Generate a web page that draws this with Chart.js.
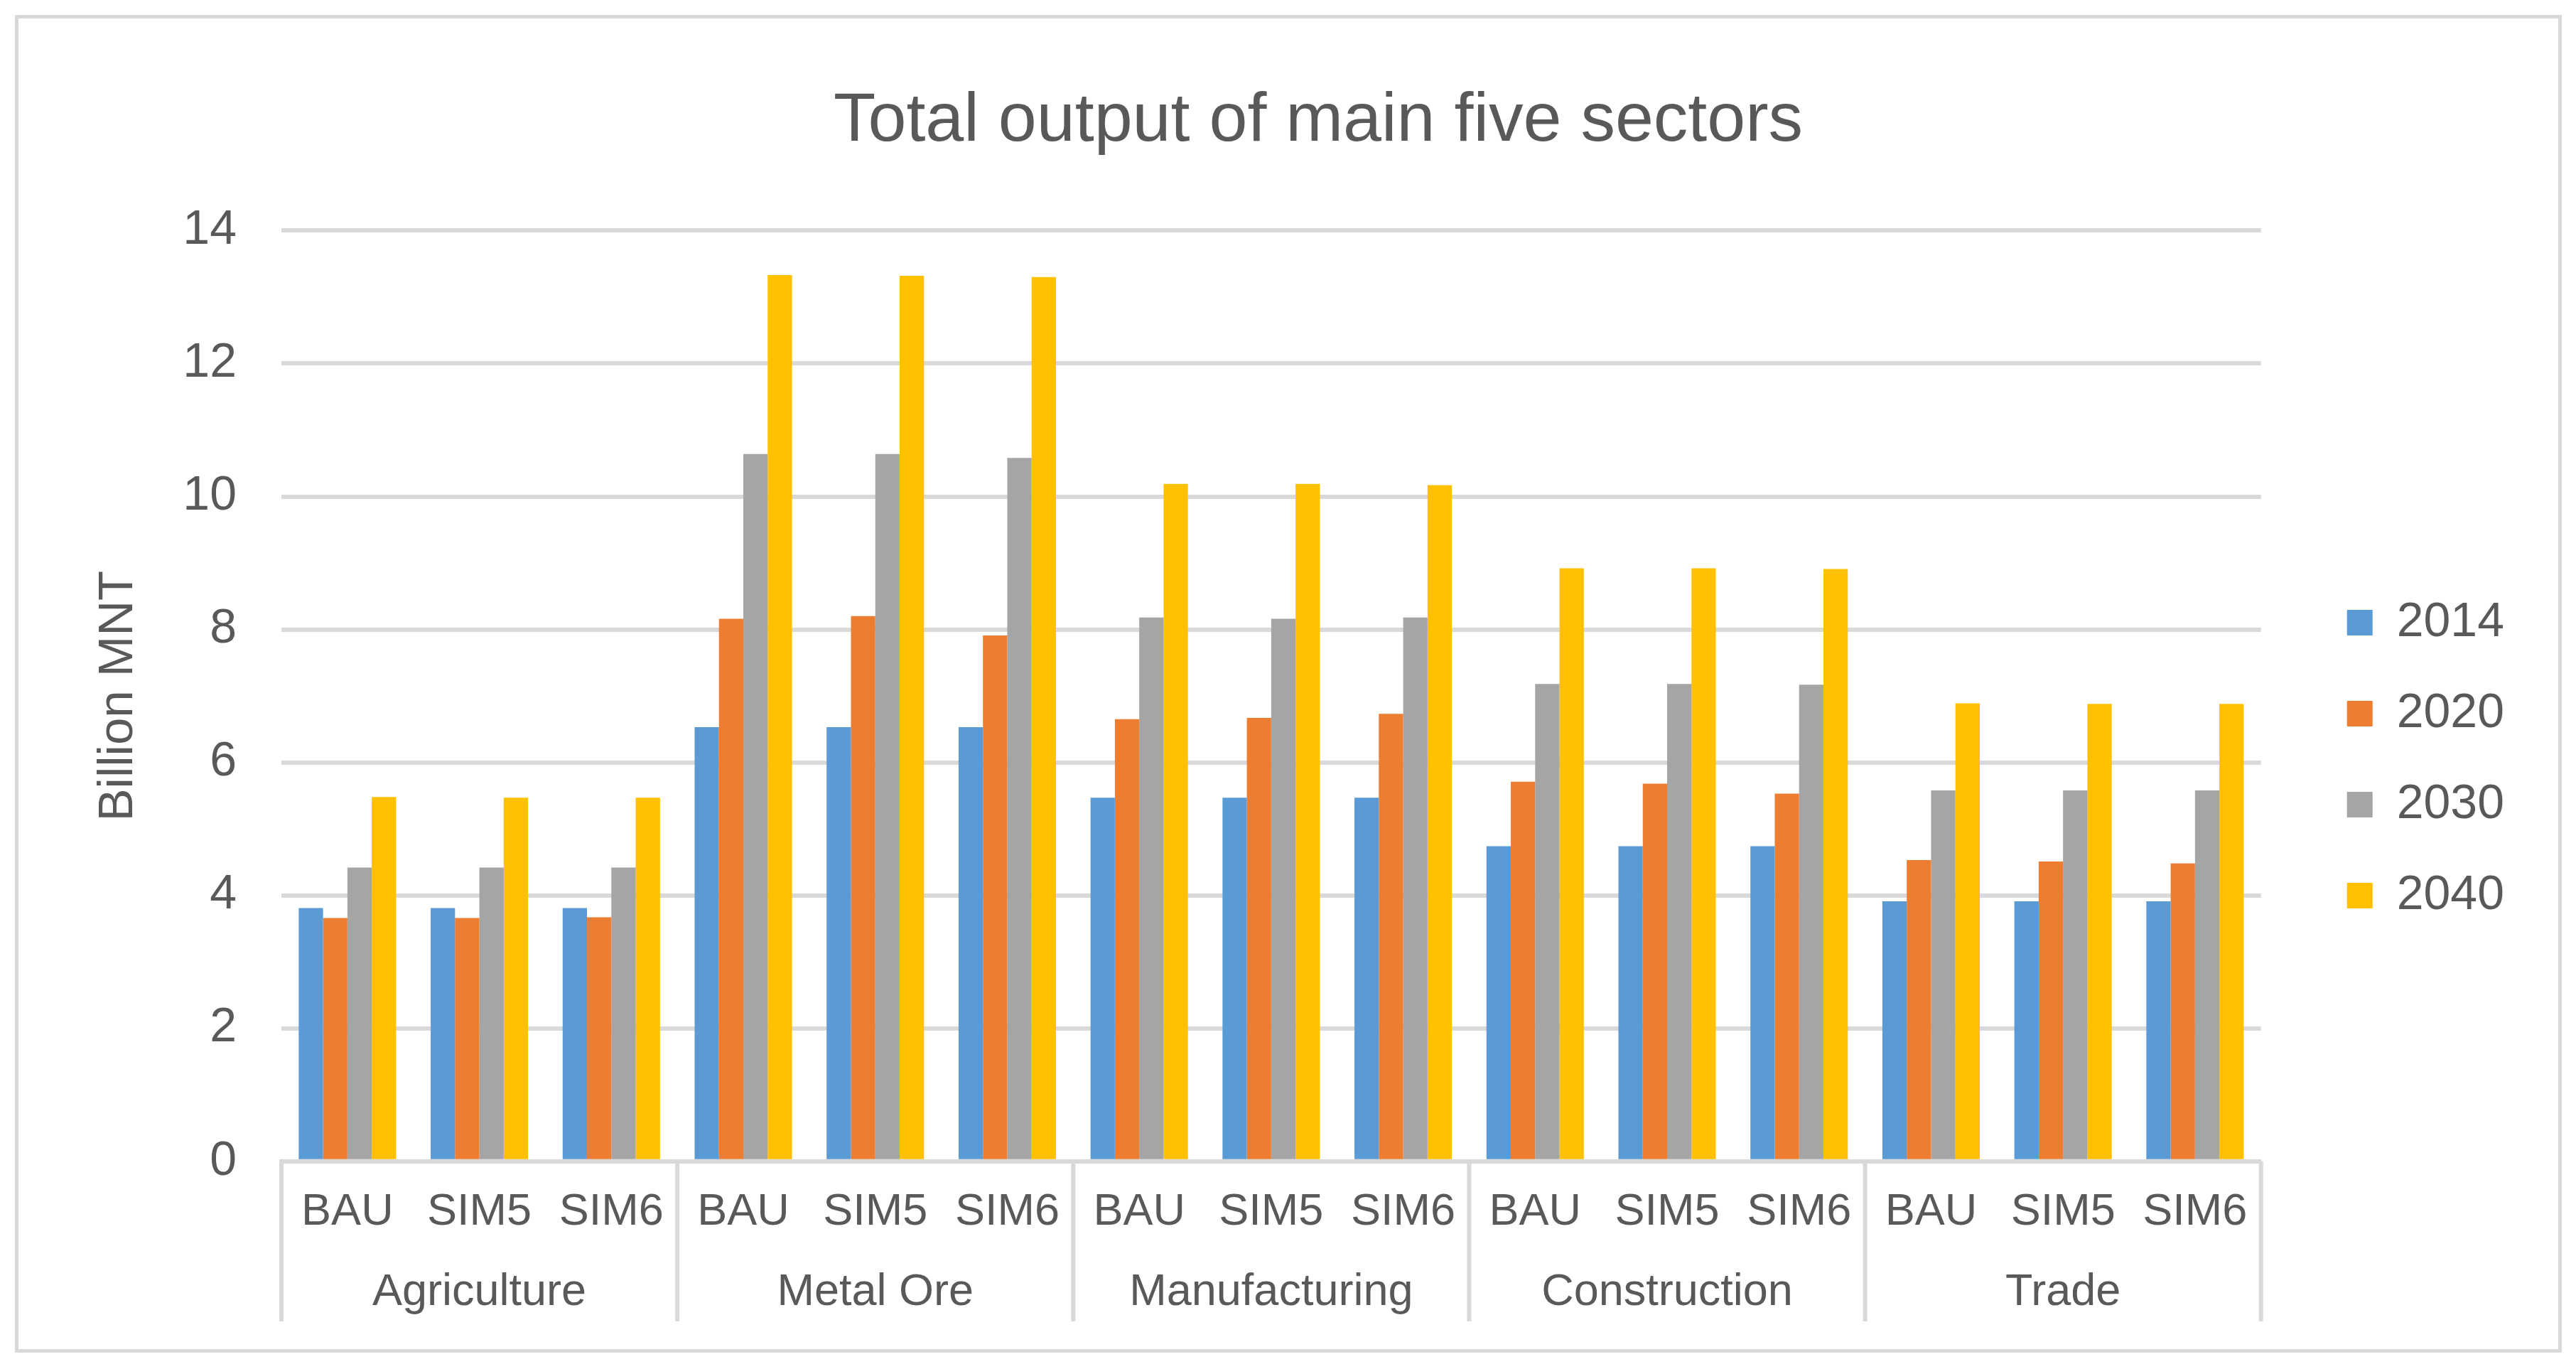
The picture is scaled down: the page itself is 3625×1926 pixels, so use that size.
<!DOCTYPE html>
<html>
<head>
<meta charset="utf-8">
<script src="https://cdn.jsdelivr.net/npm/chart.js@4.4.1/dist/chart.umd.min.js"></script>
<style>
  html, body { margin: 0; padding: 0; background: #ffffff; }
  #frame { position: absolute; left: 21px; top: 21px; width: 3584px; height: 1882px;
           border: 5px solid #d9d9d9; box-sizing: border-box; }
  #c { position: absolute; left: 0; top: 0; }
</style>
</head>
<body>
<div id="frame"></div>
<canvas id="c" width="3625" height="1926"></canvas>
<script>
// ---- data ----
const sectors   = ['Agriculture', 'Metal Ore', 'Manufacturing', 'Construction', 'Trade'];
const scenarios = ['BAU', 'SIM5', 'SIM6'];
const years     = ['2014', '2020', '2030', '2040'];

const v2014 = [3.81, 3.81, 3.81,  6.53, 6.53, 6.53,  5.47, 5.47, 5.47,  4.74, 4.74, 4.74,  3.91, 3.91, 3.91];
const v2020 = [3.66, 3.66, 3.67,  8.16, 8.20, 7.91,  6.65, 6.67, 6.73,  5.71, 5.68, 5.53,  4.53, 4.51, 4.48];
const v2030 = [4.42, 4.42, 4.42, 10.64,10.64,10.58,  8.18, 8.16, 8.18,  7.18, 7.18, 7.17,  5.58, 5.58, 5.58];
const v2040 = [5.48, 5.47, 5.47, 13.33,13.32,13.30, 10.19,10.19,10.17,  8.92, 8.92, 8.91,  6.89, 6.88, 6.88];

const yMin = 0, yMax = 14, yStep = 2;

// ---- styles ----
const FONT = "'Liberation Sans', Arial, sans-serif";
const TEXT = '#595959';
const GRID = '#d9d9d9';
const colors = ['#5B9BD5', '#ED7D31', '#A5A5A5', '#FFC000'];

const xLabels = sectors.flatMap(() => scenarios);
const seriesValues = [v2014, v2020, v2030, v2040];

// group separators of the two-level category axis, placed from the scales
const groupSeparators = {
  id: 'groupSeparators',
  afterDraw(chart) {
    const xs = chart.scales.x, x2 = chart.scales.x2;
    const n = xs.ticks.length;
    const per = n / sectors.length;
    const half = (xs.getPixelForTick(1) - xs.getPixelForTick(0)) / 2;
    const ctx = chart.ctx;
    ctx.save();
    ctx.strokeStyle = GRID;
    ctx.lineWidth = 6;
    for (let k = 0; k <= sectors.length; k++) {
      const i = k * per;
      const px = i < n ? xs.getPixelForTick(i) - half : xs.getPixelForTick(n - 1) + half;
      ctx.beginPath();
      ctx.moveTo(px, xs.top);
      ctx.lineTo(px, x2.bottom);
      ctx.stroke();
    }
    ctx.restore();
  }
};

const legendShift = {
  id: 'legendShift',
  afterLayout(chart) {
    const lg = chart.legend;
    if (lg) { lg.top += 89; lg.bottom += 89; }
  }
};

new Chart(document.getElementById('c'), {
  type: 'bar',
  data: {
    labels: xLabels,
    datasets: years.map((y, i) => ({
      label: y,
      data: seriesValues[i],
      backgroundColor: colors[i],
      borderWidth: 0,
      xAxisID: 'x',
      yAxisID: 'y',
      categoryPercentage: 0.738,
      barPercentage: 1.0
    }))
  },
  options: {
    responsive: false,
    animation: false,
    devicePixelRatio: 1,
    layout: { padding: { left: 176, right: 91, top: 0, bottom: 67 } },
    plugins: {
      title: {
        display: true,
        text: 'Total output of main five sectors',
        color: TEXT,
        font: { family: FONT, size: 97, weight: 'normal', lineHeight: 1.2 },
        padding: { top: 113, bottom: 95 }
      },
      legend: {
        position: 'right',
        fullSize: false,
        align: 'center',
        labels: {
          boxWidth: 36, boxHeight: 36, padding: 60,
          color: TEXT,
          font: { family: FONT, size: 68 }
        }
      },
      tooltip: { enabled: false }
    },
    scales: {
      x: {
        type: 'category',
        position: 'bottom',
        weight: 0,
        offset: true,
        grid: { display: false, drawTicks: false },
        border: { display: true, color: GRID, width: 6 },
        ticks: { color: TEXT, font: { family: FONT, size: 63 }, padding: 34, autoSkip: false, maxRotation: 0, minRotation: 0 }
      },
      x2: {
        type: 'category',
        labels: sectors,
        position: 'bottom',
        weight: 1,
        offset: true,
        grid: { display: false, drawTicks: false },
        border: { display: false },
        ticks: { color: TEXT, font: { family: FONT, size: 63 }, padding: 3, autoSkip: false, maxRotation: 0, minRotation: 0 }
      },
      y: {
        type: 'linear',
        position: 'left',
        min: yMin, max: yMax,
        ticks: { stepSize: yStep, padding: 63, color: TEXT, font: { family: FONT, size: 68 } },
        grid: { color: GRID, lineWidth: 6, drawTicks: false },
        border: { display: false },
        title: {
          display: true, text: 'Billion MNT', color: TEXT,
          font: { family: FONT, size: 69 },
          padding: { top: -50, bottom: 0 }
        },
        afterFit(s) { s.width = 220; }
      },
      y2: {
        type: 'linear',
        position: 'right',
        display: true,
        grid: { display: false, drawTicks: false },
        border: { display: false },
        ticks: { display: false },
        afterFit(s) { s.width = 61; }
      }
    }
  },
  plugins: [groupSeparators, legendShift]
});
</script>
</body>
</html>
